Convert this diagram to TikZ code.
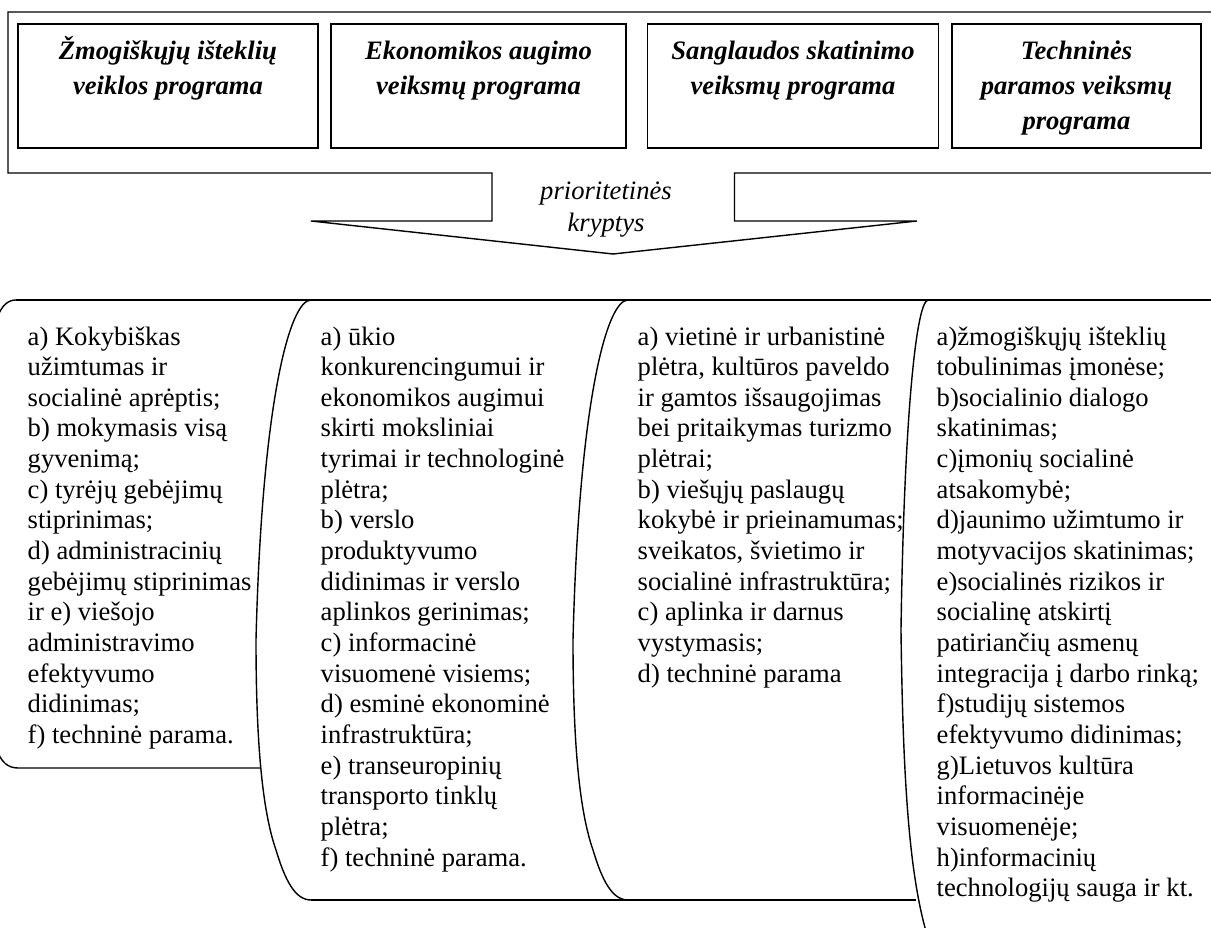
\documentclass[tikz,border=0pt]{standalone}
\usepackage{fontspec}
\setmainfont{Liberation Serif}
\usepackage{tikz}

\tikzset{
    progbox/.style={draw, rectangle, line width=1.4pt, minimum height=124pt, inner sep=0pt},
    progtext/.style={anchor=base, align=center, inner sep=0pt, font=\fontsize{26.6}{35}\selectfont\bfseries\itshape},
    arrowtext/.style={anchor=base, align=center, inner sep=0pt, font=\fontsize{26.6}{32}\selectfont\itshape},
    listtext/.style={anchor=base west, align=left, inner sep=0pt, font=\fontsize{26.6}{30.65}\selectfont},
}

\begin{document}
\begin{tikzpicture}[x=1pt, y=-1pt, line width=1.4pt]
    \useasboundingbox (0,0) rectangle (1211,928);

    % Define the macro.
    % 1st argument: X offset of the curved edge (0 for the second panel).
    \newcommand{\scrollEdge}[1]{
        \draw ({311+#1},300) .. controls ({290+#1},300) and ({262+#1},400) .. ({256+#1},640)
              .. controls ({256+#1},740) and ({262+#1},810) .. ({276+#1},850)
              .. controls ({285+#1},880) and ({295+#1},900) .. ({311+#1},900);
    }

    % FRAME WITH ARROW
    \draw (1215,173) -- (734.5,173) -- (734.5,221) -- (917,221) -- (613,254)
          -- (311,221) -- (492,221) -- (492,173) -- (8,173) -- (8,12) -- (1215,12);

    % PROGRAMS
    \node[progbox, minimum width=300pt] (zmogiskieji) at (168,86) {};
    \node[progbox, minimum width=295pt] (ekonomikos) at (478.5,86) {};
    \node[progbox, minimum width=291pt] (sanglaudos) at (793,86) {};
    \node[progbox, minimum width=249pt] (technines) at (1076.5,86) {};

    % text nodes sit on the baseline of their last line
    \node[progtext] (zmogiskiejiTxt) at (168,95) {Žmogiškųjų išteklių\\veiklos programa};
    \node[progtext] (ekonomikosTxt) at (478.5,95) {Ekonomikos augimo\\veiksmų programa};
    \node[progtext] (sanglaudosTxt) at (793,95) {Sanglaudos skatinimo\\veiksmų programa};
    \node[progtext] (techninesTxt) at (1076.5,130) {Techninės\\paramos veiksmų\\programa};

    \node[arrowtext] (kryptys) at (606,232) {prioritetinės\\kryptys};

    % PANELS
    \draw (16,300) -- (1215,300);
    \draw (16,300) .. controls (8,300) and (2,305) .. (-3,318) -- (-3,750)
          .. controls (1,762) and (8,768) .. (18,768) -- (260.5,768);
    \draw (311,900) -- (916,900);
    \scrollEdge{0}
    \scrollEdge{317}
    \draw (928,300) .. controls (916,302) and (904,420) .. (901,630)
          .. controls (903,790) and (910,890) .. (932,950);

    % PRIORITIES (first baseline at 345, 30.65 between lines)
    \node[listtext] (zmogiskiejiList) at (27,743.45) {a) Kokybiškas\\užimtumas ir\\socialinė aprėptis;\\b) mokymasis visą\\gyvenimą;\\c) tyrėjų gebėjimų\\stiprinimas;\\d) administracinių\\gebėjimų stiprinimas\\ir e) viešojo\\administravimo\\efektyvumo\\didinimas;\\f) techninė parama.};
    \node[listtext] (ekonomikosList) at (320,866.05) {a) ūkio\\konkurencingumui ir\\ekonomikos augimui\\skirti moksliniai\\tyrimai ir technologinė\\plėtra;\\b) verslo\\produktyvumo\\didinimas ir verslo\\aplinkos gerinimas;\\c) informacinė\\visuomenė visiems;\\d) esminė ekonominė\\infrastruktūra;\\e) transeuropinių\\transporto tinklų\\plėtra;\\f) techninė parama.};
    \node[listtext] (sanglaudosList) at (637,682.15) {a) vietinė ir urbanistinė\\plėtra, kultūros paveldo\\ir gamtos išsaugojimas\\bei pritaikymas turizmo\\plėtrai;\\b) viešųjų paslaugų\\kokybė ir prieinamumas;\\sveikatos, švietimo ir\\socialinė infrastruktūra;\\c) aplinka ir darnus\\vystymasis;\\d) techninė parama};
    \node[listtext] (techninesList) at (936,896.7) {a)žmogiškųjų išteklių\\tobulinimas įmonėse;\\b)socialinio dialogo\\skatinimas;\\c)įmonių socialinė\\atsakomybė;\\d)jaunimo užimtumo ir\\motyvacijos skatinimas;\\e)socialinės rizikos ir\\socialinę atskirtį\\patiriančių asmenų\\integracija į darbo rinką;\\f)studijų sistemos\\efektyvumo didinimas;\\g)Lietuvos kultūra\\informacinėje\\visuomenėje;\\h)informacinių\\technologijų sauga ir kt.};
\end{tikzpicture}
\end{document}
